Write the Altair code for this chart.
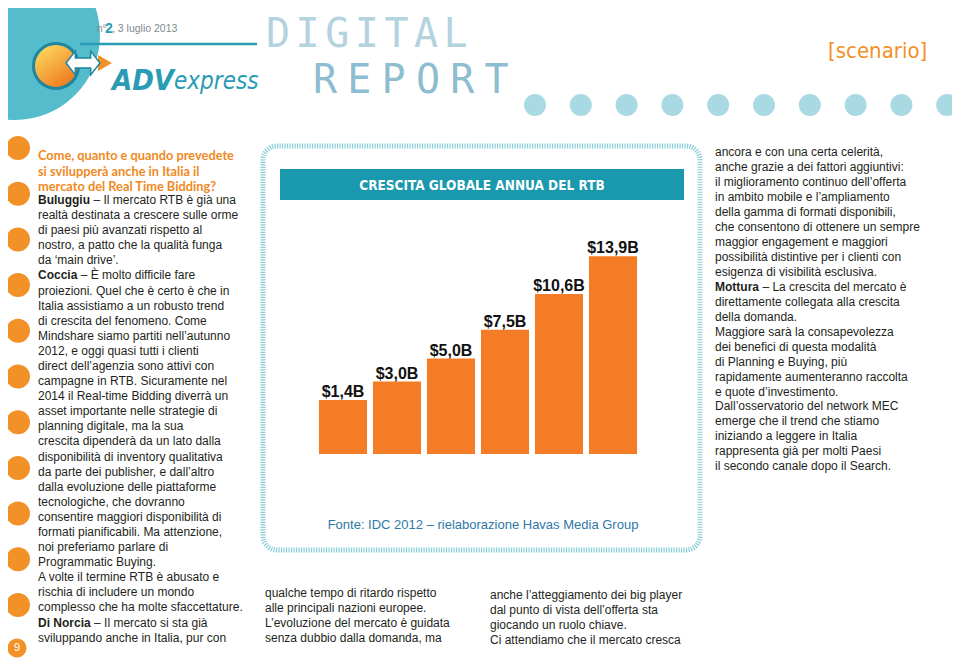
import altair as alt
import pandas as pd

# ---------------- chart data ----------------
years = ["2011", "2012", "2013", "2014", "2015", "2016"]
values = [1.4, 3.0, 5.0, 7.5, 10.6, 13.9]
labels = ["$1,4B", "$3,0B", "$5,0B", "$7,5B", "$10,6B", "$13,9B"]

TITLE = "CRESCITA GLOBALE ANNUA DEL RTB"
SOURCE = "Fonte: IDC 2012 – rielaborazione Havas Media Group"

# ---------------- page text ----------------
heading = [
    "Come, quanto e quando prevedete",
    "si svilupperà anche in Italia il",
    "mercato del Real Time Bidding?",
]
left_body = [
    "Buluggiu – Il mercato RTB è già una",
    "realtà destinata a crescere sulle orme",
    "di paesi più avanzati rispetto al",
    "nostro, a patto che la qualità funga",
    "da ‘main drive’.",
    "Coccia – È molto difficile fare",
    "proiezioni. Quel che è certo è che in",
    "Italia assistiamo a un robusto trend",
    "di crescita del fenomeno. Come",
    "Mindshare siamo partiti nell’autunno",
    "2012, e oggi quasi tutti i clienti",
    "direct dell’agenzia sono attivi con",
    "campagne in RTB. Sicuramente nel",
    "2014 il Real-time Bidding diverrà un",
    "asset importante nelle strategie di",
    "planning digitale, ma la sua",
    "crescita dipenderà da un lato dalla",
    "disponibilità di inventory qualitativa",
    "da parte dei publisher, e dall’altro",
    "dalla evoluzione delle piattaforme",
    "tecnologiche, che dovranno",
    "consentire maggiori disponibilità di",
    "formati pianificabili. Ma attenzione,",
    "noi preferiamo parlare di",
    "Programmatic Buying.",
    "A volte il termine RTB è abusato e",
    "rischia di includere un mondo",
    "complesso che ha molte sfaccettature.",
    "Di Norcia – Il mercato si sta già",
    "sviluppando anche in Italia, pur con",
]
right_body = [
    "ancora e con una certa celerità,",
    "anche grazie a dei fattori aggiuntivi:",
    "il miglioramento continuo dell’offerta",
    "in ambito mobile e l’ampliamento",
    "della gamma di formati disponibili,",
    "che consentono di ottenere un sempre",
    "maggior engagement e maggiori",
    "possibilità distintive per i clienti con",
    "esigenza di visibilità esclusiva.",
    "Mottura – La crescita del mercato è",
    "direttamente collegata alla crescita",
    "della domanda.",
    "Maggiore sarà la consapevolezza",
    "dei benefici di questa modalità",
    "di Planning e Buying, più",
    "rapidamente aumenteranno raccolta",
    "e quote d’investimento.",
    "Dall’osservatorio del network MEC",
    "emerge che il trend che stiamo",
    "iniziando a leggere in Italia",
    "rappresenta già per molti Paesi",
    "il secondo canale dopo il Search.",
]
speakers = ["Buluggiu", "Coccia", "Di Norcia", "Mottura"]
mid_left = [
    "qualche tempo di ritardo rispetto",
    "alle principali nazioni europee.",
    "L’evoluzione del mercato è guidata",
    "senza dubbio dalla domanda, ma",
]
mid_right = [
    "anche l’atteggiamento dei big player",
    "dal punto di vista dell’offerta sta",
    "giocando un ruolo chiave.",
    "Ci attendiamo che il mercato cresca",
]

df = pd.DataFrame({"year": years, "value": values, "label": labels})

# ---------------- styling helpers ----------------
BODY = "Liberation Sans"
COND = "DejaVu Sans Condensed"
MONO = "DejaVu Sans Mono"
INK = "#231f20"
ORANGE = "#f39129"
TEAL = "#2a9bb4"
# rendered width (px) of each bold speaker name at 12px, plus a space
NAME_W = {"Buluggiu": 55.4, "Coccia": 42.7, "Di Norcia": 56.1, "Mottura": 47.4}
OX, OY = 316, 232  # page position of the plot area
one = pd.DataFrame({"k": [0]})


def X(v):
    return alt.value(v - OX)


def Y(v):
    return alt.value(v - OY)


def text(x, y, t, size=12, color=INK, font=BODY, weight="normal", align="left",
         lh=None, style=None, baseline="alphabetic"):
    kw = dict(align=align, baseline=baseline, fontSize=size, color=color,
              font=font, fontWeight=weight)
    if lh:
        kw["lineHeight"] = lh
    if style:
        kw["fontStyle"] = style
    return alt.Chart(one).mark_text(**kw).encode(x=X(x), y=Y(y), text=alt.value(t))


def dot(x, y, d, color, shape="circle", stroke=None, sw=0, fill=None):
    kw = dict(shape=shape, filled=True, size=d * d, opacity=1, color=color)
    if stroke:
        kw["stroke"] = stroke
        kw["strokeWidth"] = sw
    if fill is not None:
        kw["fill"] = fill
    return alt.Chart(one).mark_point(**kw).encode(x=X(x), y=Y(y))


def box(x1, x2, y1, y2, **kw):
    return alt.Chart(one).mark_rect(**kw).encode(x=X(x1), x2=X(x2), y=Y(y1), y2=Y(y2))


def column(x, y0, lh, lines):
    """Body column: plain lines grouped into blocks, speaker names in bold."""
    out, block, start = [], [], 0
    for i, ln in enumerate(lines):
        name = next((s for s in speakers if ln.startswith(s + " –")), None)
        if name is None:
            if not block:
                start = i
            block.append(ln)
            continue
        if block:
            out.append(text(x, y0 + start * lh, block, lh=lh))
            block = []
        yy = y0 + i * lh
        out.append(text(x, yy, name, weight="bold"))
        out.append(text(x + NAME_W[name], yy, ln[len(name) + 1:]))
    if block:
        out.append(text(x, y0 + start * lh, block, lh=lh))
    return out


layers = []

# header
layers.append(dot(15, 35, 170, "#55bccb"))
layers.append(alt.Chart(one).mark_rule(color=TEAL, strokeWidth=2.5).encode(
    x=X(80), x2=X(257), y=Y(44)))
grad = {"gradient": "linear", "x1": 0.2, "y1": 0.1, "x2": 0.8, "y2": 0.9,
        "stops": [{"offset": 0, "color": "#fcd45c"}, {"offset": 1, "color": "#ee7a1e"}]}
layers.append(dot(56, 66, 45, "#f5a030", stroke="#1f86a0", sw=3, fill=grad))
arrow = ("M-1,0 L-0.45,-0.7 L-0.45,-0.3 L0.45,-0.3 L0.45,-0.7 L1,0 "
         "L0.45,0.7 L0.45,0.3 L-0.45,0.3 L-0.45,0.7 Z")
layers.append(dot(105, 63, 16, "#f39129", shape="triangle-right"))
layers.append(dot(83, 63, 34, "white", shape=arrow, stroke="#1f86a0", sw=1.5))
layers.append(text(112, 90, "ADV", size=29, color=TEAL, font=COND, weight="bold", style="italic"))
layers.append(text(174, 89, "express", size=24, color=TEAL, font=COND, style="italic"))
layers.append(text(97, 32, "n°", size=10, color="#7d8a8f"))
layers.append(text(105, 33, "2", size=14, color=TEAL, weight="bold"))
layers.append(text(112, 32, ", 3 luglio 2013", size=10.5, color="#7d8a8f"))
for i, ch in enumerate("DIGITAL"):
    layers.append(text(266 + i * 29.6, 47, ch, size=40, font=MONO, color="#b3d3de"))
for i, ch in enumerate("REPORT"):
    layers.append(text(313 + i * 34.3, 93, ch, size=40, font=MONO, color="#8dbdd0"))
layers.append(text(828, 58, "[scenario]", size=22, font=COND, color=ORANGE))
for i in range(10):
    layers.append(dot(535 + i * 45.8, 105, 22, "#a9d9e2"))

# left column bullets
for i in range(11):
    layers.append(dot(18, 148 + i * 45.7, 24, ORANGE))
layers.append(dot(17, 648, 19, ORANGE))
layers.append(text(17, 648, "9", size=11, color="white", align="center", baseline="middle"))

# left column text
layers.append(text(38, 160, heading, size=12.8, font="Lato", weight="bold", color="#f08a24", lh=15.5))
layers += column(38, 204, 15.09, left_body)

# right column text
layers += column(715, 156, 14.97, right_body)

# bottom middle text
layers.append(text(265, 597, mid_left, lh=15))
layers.append(text(490, 599, mid_right, lh=15))

# chart frame + title
layers.append(box(263, 700, 146, 550, fill="white", stroke="#86cdd9", strokeWidth=5,
                  strokeDash=[1.2, 1.3], cornerRadius=14))
layers.append(box(280, 684, 169, 200, color="#1998ae"))
layers.append(text(482, 190, TITLE, size=13.5, font=COND, weight="bold", color="white", align="center"))
layers.append(text(483, 529, SOURCE, size=13, color="#2e78a8", align="center"))

# bars
bars = alt.Chart(df).mark_bar(color="#f47c26").encode(
    x=alt.X("year:N", sort=years,
            scale=alt.Scale(paddingInner=0.11, paddingOuter=0.055),
            axis=alt.Axis(title=None, domain=False, ticks=False, labelAngle=0,
                          labelFont=BODY, labelFontSize=16, labelFontWeight="bold",
                          labelColor="#111", labelPadding=3)),
    y=alt.Y("value:Q", scale=alt.Scale(domain=[-3.3, 14.53]), axis=None),
    y2=alt.datum(-3.3),
)
vals = alt.Chart(df).mark_text(baseline="alphabetic", dy=-3, fontSize=16, fontWeight="bold",
                               font=BODY, color="#111").encode(
    x=alt.X("year:N", sort=years),
    y=alt.Y("value:Q"),
    text="label:N",
)
layers += [bars, vals]

chart = alt.layer(*layers).properties(
    width=324, height=230,
    padding={"left": 308, "top": 224, "right": 312, "bottom": 196},
    autosize=alt.AutoSizeParams(type="none"),
    background="white",
).configure_view(stroke=None)

chart.save("out.html", embed_options={"renderer": "svg", "actions": False})
